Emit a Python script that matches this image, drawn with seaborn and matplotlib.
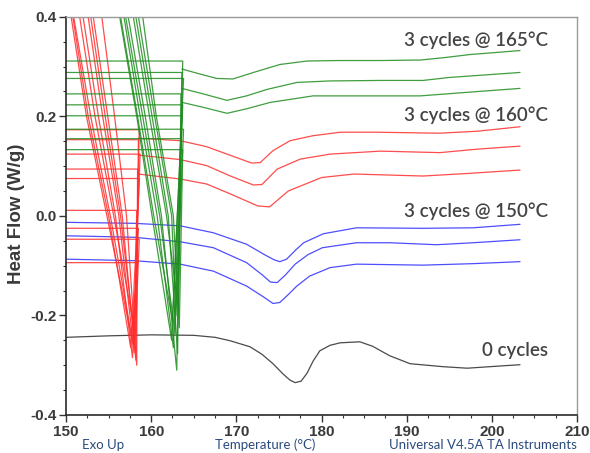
import numpy as np
import pandas as pd
import matplotlib.pyplot as plt
import seaborn as sns
from matplotlib.ticker import MultipleLocator

# ---- heating curves (after cycling) ----
black_T = [150, 155, 160, 165, 167.5, 169.3, 171.6, 173, 174.3, 175.5, 176.3, 176.9, 177.6, 178.3,
           179, 179.8, 181, 182.2, 184.5, 186, 188, 190.4, 194.3, 197.1, 200.6, 203.3]
black_HF = [-0.244, -0.241, -0.239, -0.240, -0.244, -0.251, -0.263, -0.278, -0.297, -0.318,
            -0.330, -0.335, -0.332, -0.316, -0.292, -0.271, -0.260, -0.255, -0.253, -0.262,
            -0.281, -0.297, -0.303, -0.306, -0.302, -0.299]

blue1_T = [150, 158, 163.4, 167.3, 171.2, 173.2, 174.4, 175.1, 175.9, 177.0, 177.9, 180.2,
           184.1, 191.9, 197.8, 203.3]
blue1_HF = [-0.013, -0.015, -0.020, -0.034, -0.057, -0.077, -0.088, -0.092, -0.087, -0.068,
            -0.054, -0.036, -0.024, -0.025, -0.024, -0.017]
blue2_T = [150, 158, 163.4, 167.3, 171.2, 173.0, 174.0, 174.8, 175.8, 176.9, 178.4, 180.1,
           184.1, 188, 193.5, 197.8, 203.3]
blue2_HF = [-0.040, -0.043, -0.052, -0.064, -0.094, -0.118, -0.133, -0.134, -0.118, -0.097,
            -0.078, -0.064, -0.054, -0.054, -0.058, -0.054, -0.048]
blue3_T = [150, 158, 163.4, 167.3, 171.2, 173.2, 174.3, 175.1, 176.1, 177.1, 178.6, 181,
           184.1, 191.9, 197.8, 203.3]
blue3_HF = [-0.087, -0.090, -0.097, -0.111, -0.141, -0.163, -0.176, -0.174, -0.158, -0.141,
            -0.121, -0.104, -0.097, -0.099, -0.096, -0.092]

red1_T = [158.5, 163.4, 166.5, 168.9, 171.8, 172.8, 174.3, 176.3, 179, 182.2, 186.5, 193.9, 198.3, 203.3]
red1_HF = [0.156, 0.151, 0.139, 0.124, 0.106, 0.107, 0.131, 0.151, 0.161, 0.168, 0.168, 0.166, 0.170, 0.179]
red2_T = [158.5, 163.4, 166.5, 169.3, 172.0, 173.0, 174.8, 177.5, 181, 186.9, 193.9, 198.3, 203.3]
red2_HF = [0.122, 0.113, 0.101, 0.080, 0.062, 0.063, 0.094, 0.114, 0.124, 0.130, 0.127, 0.134, 0.140]
red3_T = [158.5, 163.4, 166.5, 169.3, 172.5, 173.9, 176.1, 180, 183.8, 191.9, 197, 203.3]
red3_HF = [0.084, 0.074, 0.064, 0.044, 0.020, 0.018, 0.050, 0.077, 0.084, 0.080, 0.085, 0.092]

green1_T = [163.6, 165.7, 167.7, 169.6, 172.0, 175.1, 178.3, 182, 186.9, 191.6, 194.5, 197.4, 203.3]
green1_HF = [0.295, 0.285, 0.276, 0.275, 0.288, 0.304, 0.311, 0.312, 0.312, 0.313, 0.318, 0.324, 0.332]
green2_T = [163.6, 166.1, 168.9, 171.2, 173.6, 177.1, 181, 186.9, 191.9, 195, 203.3]
green2_HF = [0.256, 0.245, 0.232, 0.241, 0.254, 0.268, 0.271, 0.272, 0.272, 0.278, 0.288]
green3_T = [163.6, 166.1, 168.9, 171.2, 174.0, 177.1, 179, 186.9, 191.6, 197, 203.3]
green3_HF = [0.228, 0.218, 0.206, 0.215, 0.228, 0.236, 0.241, 0.241, 0.241, 0.248, 0.256]

# ---- isothermal cycling segments (level, drop, trough, return) ----
red_lvl = [0.173, 0.153, 0.124, 0.094, 0.075, 0.011, -0.025, -0.047, -0.094]
red_tend = [158.6, 158.5, 158.7, 158.4, 158.6, 158.3, 158.5, 158.6, 158.4]
red_bot = [-0.235, -0.29, -0.26, -0.30, -0.245, -0.275, -0.285, -0.255, -0.265]
red_tbot = [158.1, 158.2, 157.9, 158.3, 157.7, 158.0, 157.8, 158.1, 157.6]
red_t0 = [155.6, 156.6, 155.2, 157.1, 154.8, 156.2, 155.8, 156.4, 155.0]
red_t2 = [153.4, 154.9, 152.9, 155.7, 152.4, 154.3, 153.8, 154.6, 152.6]
red_t4 = [151.6, 153.2, 150.9, 154.2, 150.6, 152.6, 152.0, 152.9, 150.8]

grn_lvl = [0.311, 0.288, 0.276, 0.245, 0.223, 0.201, 0.174, 0.155, 0.133]
grn_tend = [163.7, 163.6, 163.8, 163.5, 163.7, 163.6, 163.8, 163.5, 163.7]
grn_bot = [-0.19, -0.31, -0.21, -0.277, -0.237, -0.25, -0.20, -0.265, -0.225]
grn_tbot = [163.2, 163.0, 162.5, 163.1, 162.8, 162.4, 162.9, 162.6, 163.3]
grn_t0 = [161.8, 161.2, 160.3, 162.0, 161.0, 160.1, 162.4, 160.7, 162.6]
grn_t2 = [159.8, 159.3, 158.4, 160.1, 159.0, 158.3, 160.4, 158.7, 160.6]
grn_t4 = [157.9, 157.3, 156.4, 158.2, 157.0, 156.3, 158.5, 156.8, 159.0]

labels = ["3 cycles @ 165°C", "3 cycles @ 160°C", "3 cycles @ 150°C", "0 cycles"]
label_y = [0.342, 0.191, -0.002, -0.281]

colors = {"black": "#2a2a2a", "blue": "#2f2fff", "red": "#ff2d2d", "green": "#1e8c1e"}


def build_frame():
    rows = []
    mains = [("black", black_T, black_HF),
             ("blue", blue1_T, blue1_HF), ("blue", blue2_T, blue2_HF), ("blue", blue3_T, blue3_HF),
             ("red", red1_T, red1_HF), ("red", red2_T, red2_HF), ("red", red3_T, red3_HF),
             ("green", green1_T, green1_HF), ("green", green2_T, green2_HF), ("green", green3_T, green3_HF)]
    for k, (grp, T, HF) in enumerate(mains):
        for t, h in zip(T, HF):
            rows.append((t, h, f"main{k}", grp))

    def cycles(grp, lvl, tend, bot, tbot, t0, t2, t4):
        for i in range(len(lvl)):
            T = [150, tend[i], tbot[i], t0[i], t2[i], t4[i]]
            HF = [lvl[i], lvl[i], bot[i], 0.0, 0.2, 0.4]
            for t, h in zip(T, HF):
                rows.append((t, h, f"{grp}cyc{i}", grp))

    cycles("red", red_lvl, red_tend, red_bot, red_tbot, red_t0, red_t2, red_t4)
    cycles("green", grn_lvl, grn_tend, grn_bot, grn_tbot, grn_t0, grn_t2, grn_t4)
    return pd.DataFrame(rows, columns=["T", "HF", "trace", "group"])


df = build_frame()

sns.set_theme(style="white")
plt.rcParams["font.family"] = ["Liberation Sans", "DejaVu Sans"]

fig = plt.figure(figsize=(5.9, 4.53), dpi=100)
ax = fig.add_axes([0.1119, 0.0839, 0.8662, 0.8792])

sns.lineplot(data=df, x="T", y="HF", hue="group", units="trace", estimator=None,
             sort=False, palette=colors, legend=False, linewidth=0.9, alpha=0.85, ax=ax)

ax.set_xlim(150, 210)
ax.set_ylim(-0.4, 0.4)
ax.xaxis.set_minor_locator(MultipleLocator(2.5))
ax.yaxis.set_minor_locator(MultipleLocator(0.05))
ax.set_xticks([150, 160, 170, 180, 190, 200, 210])
ax.set_xticklabels(["150", "160", "170", "180", "190", "200", "210"])
ax.set_yticks([-0.4, -0.2, 0.0, 0.2, 0.4])
ax.set_yticklabels(["-0.4", "-0.2", "0.0", "0.2", "0.4"])
ax.tick_params(which="major", direction="out", length=5, width=1, colors="#333333",
               labelsize=11, pad=2, bottom=True, left=True)
ax.tick_params(which="minor", direction="out", length=2.5, width=0.8, colors="#333333",
               bottom=True, left=True)
for lab in ax.get_xticklabels() + ax.get_yticklabels():
    lab.set_fontweight("bold")
    lab.set_color("#3a3a3a")

for side in ["left", "bottom"]:
    ax.spines[side].set_color("#2a2a2a")
    ax.spines[side].set_linewidth(1.2)
for side in ["top", "right"]:
    ax.spines[side].set_color("#9a9a9a")
    ax.spines[side].set_linewidth(1.0)

ax.set_xlabel("")
ax.set_ylabel("Heat Flow (W/g)", fontsize=13.5, fontweight="bold", color="#3a3a3a")
ax.yaxis.set_label_coords(-0.080, 0.505)

for txt, y in zip(labels, label_y):
    ax.text(206.6, y, txt, ha="right", va="baseline", fontsize=13.5, color="#444444",
            family=["Lato", "DejaVu Sans"], fontweight="semibold")

navy = "#2b4a7e"
fig.text(82 / 590, 0.018, "Exo Up", ha="left", va="center", fontsize=9.5, color=navy,
         family=["Lato", "DejaVu Sans"])
fig.text(265 / 590, 0.018, "Temperature (°C)", ha="center", va="center", fontsize=9.5,
         color=navy, family=["Lato", "DejaVu Sans"])
fig.text(577 / 590, 0.018, "Universal V4.5A TA Instruments", ha="right", va="center",
         fontsize=9.5, color=navy, family=["Lato", "DejaVu Sans"])

fig.savefig("out.png", dpi=100)
